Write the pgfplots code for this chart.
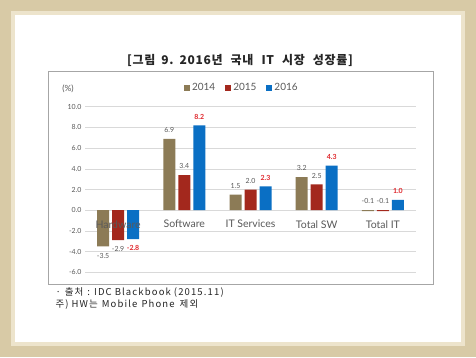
\documentclass[border=0pt]{standalone}
\usepackage{fontspec}
\setmainfont{Lato}
\newfontfamily\kr{Noto Sans CJK KR}
\newfontfamily\krt[LetterSpace=6]{Noto Sans CJK KR}
\newfontfamily\krf[LetterSpace=12]{Noto Sans CJK KR}
\usepackage{pgfplots}
\pgfplotsset{compat=1.18}
\usepackage{pgfplotstable}
\definecolor{c14}{HTML}{8C7B56}
\definecolor{c15}{HTML}{A3281D}
\definecolor{c16}{HTML}{0A6FC4}
\definecolor{lblred}{HTML}{E0262B}
\definecolor{txt}{HTML}{595959}
\definecolor{gridc}{HTML}{D9D9D9}
\definecolor{beige}{HTML}{D8CAA6}
\definecolor{beigeL}{HTML}{EDE4CC}
\definecolor{boxc}{HTML}{A6A6A6}

% x = category index, val = growth rate, ly = label centre height
\pgfplotstableread{
x val ly
0 -3.5 -4.4
1 6.9 7.75
2 1.5 2.35
3 3.2 4.05
4 -0.1 0.85
}\tA
\pgfplotstableread{
x val ly
0 -2.9 -3.75
1 3.4 4.25
2 2.0 2.85
3 2.5 3.35
4 -0.1 0.85
}\tB
\pgfplotstableread{
x val ly
0 -2.8 -3.65
1 8.2 9.05
2 2.3 3.15
3 4.3 5.15
4 1.0 1.85
}\tC

\begin{document}
\begin{tikzpicture}
\path[use as bounding box] (0pt,0pt) rectangle (476pt,357pt);
\fill[beige] (0pt,0pt) rectangle (476pt,357pt);
\fill[beigeL] (11pt,11pt) rectangle (465pt,346pt);
\fill[white] (15pt,15pt) rectangle (461pt,342pt);
\draw[boxc, line width=0.8pt] (48pt,286pt) rectangle (433pt,73pt);

\node[font=\krt\bfseries\fontsize{12}{14}\selectfont, text=black!85] at (240pt,297pt) {[그림\hspace{6pt}9.\hspace{6pt}2016년\hspace{8pt}국내\hspace{8pt}IT\hspace{8pt}시장\hspace{8pt}성장률]};
\node[anchor=west, font=\krf\fontsize{9.5}{11}\selectfont, text=black!85] at (52pt,64.5pt) {·\hspace{4pt}출처\hspace{4pt}:\hspace{4pt}IDC\hspace{3pt}Blackbook\hspace{3pt}(2015.11)};
\node[anchor=west, font=\krf\fontsize{9.5}{11}\selectfont, text=black!85] at (52pt,52.5pt) {주)\hspace{3pt}HW는\hspace{4pt}Mobile\hspace{4pt}Phone\hspace{5pt}제외};
\node[font=\fontsize{8.5}{10}\selectfont, text=txt] at (68pt,268pt) {(\%)};

\begin{axis}[
  at={(85pt,84.7pt)}, anchor=south west,
  scale only axis, width=331pt, height=165.6pt,
  xmin=-0.5, xmax=4.5, ymin=-6, ymax=10,
  axis x line*=middle, axis y line*=left,
  x axis line style={draw=gridc, line width=0.6pt},
  y axis line style={draw=none},
  xtick={0,1,2,3,4},
  xticklabels={},
  ytick={-6,-4,...,10},
  major tick length=0pt,
  ymajorgrids, grid style={draw=gridc, line width=0.6pt},
  yticklabel style={font=\fontsize{7}{8}\selectfont, text=txt},
  legend style={at={(0.474,1.113)}, anchor=center, draw=none, fill=none,
    legend columns=3, font=\fontsize{10}{11}\selectfont, text=txt,
    /tikz/every even column/.append style={column sep=8pt},
    inner sep=1pt},
  legend image code/.code={\path[#1, draw=none] (0pt,-3pt) rectangle (6pt,3pt);},
  /pgf/number format/fixed, /pgf/number format/fixed zerofill,
  /pgf/number format/precision=1, /pgf/number format/assume math mode=true,
]
\addplot[ybar, bar width=12pt, bar shift=-15pt, fill=c14, draw=none] table[x=x,y=val]{\tA};
\addplot[ybar, bar width=12pt, bar shift=0pt, fill=c15, draw=none] table[x=x,y=val]{\tB};
\addplot[ybar, bar width=12pt, bar shift=15pt, fill=c16, draw=none] table[x=x,y=val]{\tC};
\legend{2014,2015,2016}

% category names, drawn over the bars
\addplot[forget plot, draw=none, mark=none, point meta=explicit symbolic,
  nodes near coords,
  nodes near coords style={anchor=center, yshift=-14pt, font=\fontsize{10.5}{12}\selectfont, text=txt}]
  coordinates {(0,0) [Hardware] (1,0) [Software] (2,0) [IT Services] (3,0) [Total SW] (4,0) [Total IT]};

\addplot[forget plot, draw=none, mark=none, point meta=\thisrow{val},
  nodes near coords,
  nodes near coords style={anchor=center, xshift=-15pt, font=\fontsize{7}{8}\selectfont, text=txt}]
  table[x=x,y=ly]{\tA};
\addplot[forget plot, draw=none, mark=none, point meta=\thisrow{val},
  nodes near coords,
  nodes near coords style={anchor=center, font=\fontsize{7}{8}\selectfont, text=txt}]
  table[x=x,y=ly]{\tB};
\addplot[forget plot, draw=none, mark=none, point meta=\thisrow{val},
  nodes near coords,
  nodes near coords style={anchor=center, xshift=15pt, font=\bfseries\fontsize{7}{8}\selectfont, text=lblred}]
  table[x=x,y=ly]{\tC};
\end{axis}
\end{tikzpicture}
\end{document}
